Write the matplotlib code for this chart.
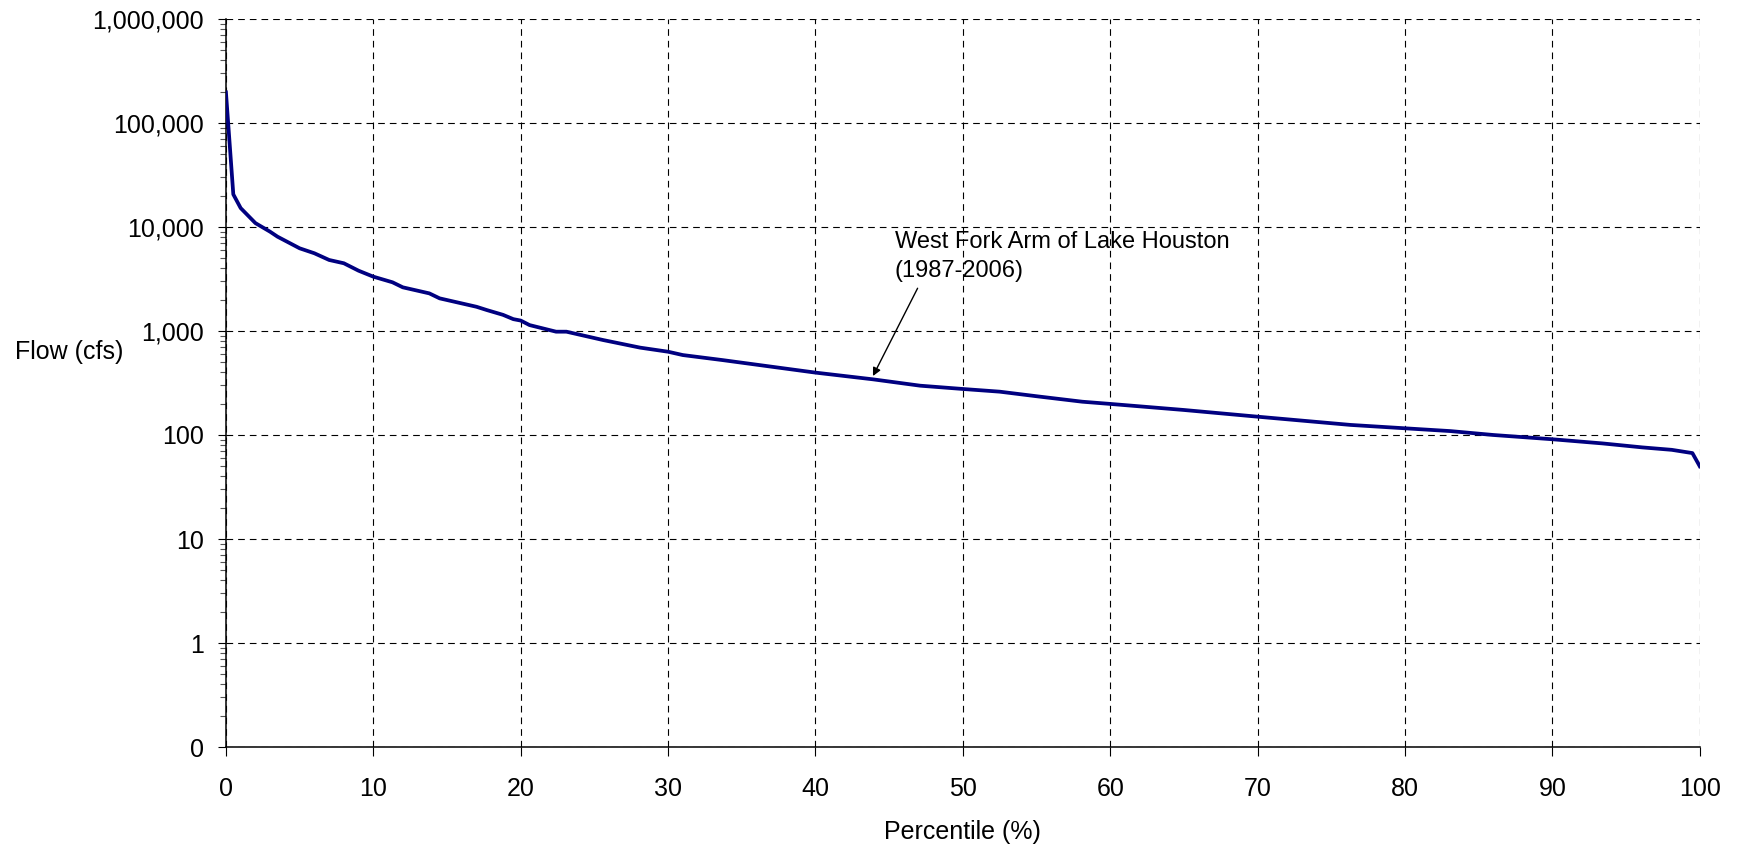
import matplotlib.pyplot as plt
from matplotlib.ticker import FixedLocator, FixedFormatter, LogLocator, NullFormatter

plt.rcParams['font.family'] = ['Liberation Sans', 'DejaVu Sans']

# flow duration curve
percentile = [0, 0.5, 1, 2, 3, 3.5, 5, 6, 7, 8, 9, 10, 11.3, 12, 13.8, 14.5,
              17, 17.7, 18.8, 19.5, 20, 20.6, 22.4, 23.1, 25.6, 26.7, 28.1,
              30, 31, 33.7, 37, 40, 43.9, 47.1, 50, 52.5, 55.2, 58.1, 60, 65,
              70, 76.3, 80, 83.1, 86, 90, 93.4, 96.1, 98.1, 99.5, 100]
flow = [197000, 20600, 15200, 10900, 9000, 8070, 6240, 5590, 4820, 4480,
        3800, 3330, 2940, 2630, 2300, 2060, 1710, 1590, 1430, 1300, 1260,
        1140, 985, 985, 818, 760, 692, 632, 587, 525, 454, 398, 343, 298,
        277, 261, 234, 209, 199, 174, 150, 125, 116, 109, 100, 91, 83, 76,
        72, 67, 50]

x_ticks = [0, 10, 20, 30, 40, 50, 60, 70, 80, 90, 100]
y_ticks = [0.1, 1, 10, 100, 1000, 10000, 100000, 1000000]
y_labels = ['0', '1', '10', '100', '1,000', '10,000', '100,000', '1,000,000']

label = 'West Fork Arm of Lake Houston\n(1987-2006)'

fig = plt.figure(figsize=(17.38, 8.48), dpi=100)
ax = fig.add_axes([0.130, 0.1191, 0.848, 0.8585])

ax.plot(percentile, flow, color='#000080', lw=2.7, zorder=3)

ax.set_yscale('log')
ax.set_xlim(0, 100)
ax.set_ylim(0.1, 1000000)

ax.xaxis.set_major_locator(FixedLocator(x_ticks))
ax.yaxis.set_major_locator(FixedLocator(y_ticks))
ax.yaxis.set_major_formatter(FixedFormatter(y_labels))
ax.yaxis.set_minor_locator(LogLocator(base=10, subs=range(2, 10), numticks=20))
ax.yaxis.set_minor_formatter(NullFormatter())

ax.tick_params(axis='x', which='major', direction='out', length=6.5, width=0.8,
               pad=15, labelsize=18)
ax.tick_params(axis='y', which='major', direction='out', length=6, width=0.8,
               pad=10, labelsize=18)
ax.tick_params(axis='y', which='minor', direction='out', length=4, width=0.8,
               color='#555555')

ax.grid(True, which='major', color='black', linestyle=(0, (6, 4.5)), lw=0.8)

for side in ['top', 'right']:
    ax.spines[side].set_visible(False)
for side in ['left', 'bottom']:
    ax.spines[side].set_linewidth(1.1)

ax.set_xlabel('Percentile (%)', fontsize=18, labelpad=14)
ax.set_ylabel('Flow (cfs)', fontsize=18, rotation=0, va='center', ha='center')
ax.yaxis.set_label_coords(-0.1065, 0.5426)

# baseline of the last line sits at this y
ax.text(45.39, 3330, label, fontsize=17, va='baseline', ha='left',
        linespacing=1.4)
ax.annotate('', xy=(43.9, 369), xytext=(46.93, 2577),
            arrowprops=dict(arrowstyle='-|>', color='black', lw=1,
                            mutation_scale=12, shrinkA=0, shrinkB=0))

fig.savefig('out.png', dpi=100)
